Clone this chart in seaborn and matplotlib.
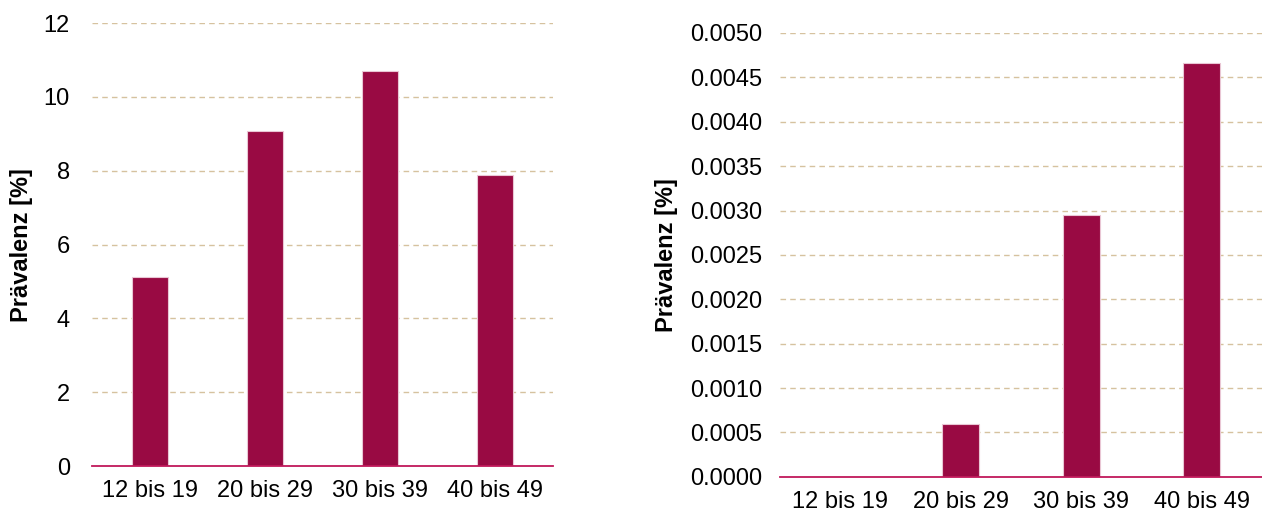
import matplotlib
matplotlib.use('Agg')
import matplotlib.pyplot as plt
import numpy as np
import pandas as pd
import seaborn as sns

altersgruppen = ['12 bis 19', '20 bis 29', '30 bis 39', '40 bis 49']
praevalenz_links = [5.12, 9.08, 10.70, 7.88]
praevalenz_rechts = [0.0, 0.0006, 0.00295, 0.00466]
yticks_links = [0, 2, 4, 6, 8, 10, 12]
yticks_rechts = [0.0, 0.0005, 0.0010, 0.0015, 0.0020, 0.0025, 0.0030, 0.0035, 0.0040, 0.0045, 0.0050]

links = pd.DataFrame({'Alter': altersgruppen, 'Prävalenz': praevalenz_links})
rechts = pd.DataFrame({'Alter': altersgruppen, 'Prävalenz': praevalenz_rechts})

sns.set_style('white')
plt.rcParams['font.family'] = ['Liberation Sans', 'DejaVu Sans']
plt.rcParams['text.color'] = 'black'
plt.rcParams['axes.labelcolor'] = 'black'
plt.rcParams['xtick.color'] = 'black'
plt.rcParams['ytick.color'] = 'black'

bar_color = '#990a43'
grid_color = '#d6c29f'
base_color = '#c0185a'

fig = plt.figure(figsize=(12.62, 5.15), dpi=100)
ax1 = fig.add_axes([0.073, 0.095, 0.365, 0.860])
ax2 = fig.add_axes([0.618, 0.074, 0.382, 0.862])

for ax, df, ticks, fmt, pad in [(ax1, links, yticks_links, '{:.0f}', 16),
                                (ax2, rechts, yticks_rechts, '{:.4f}', 13)]:
    sns.barplot(data=df, x='Alter', y='Prävalenz', ax=ax, color=bar_color,
                saturation=1, width=0.31, edgecolor='#e9c6d4', linewidth=0.8, zorder=3)
    ax.set_ylim(ticks[0], ticks[-1])
    ax.set_yticks(ticks)
    ax.set_yticklabels([fmt.format(t) for t in ticks])
    ax.set_xlim(-0.5, 3.5)
    for t in ticks[1:]:
        ax.axhline(t, color=grid_color, linestyle=(0, (4, 3)), linewidth=1.0, zorder=1)
    for s in ['top', 'right', 'left']:
        ax.spines[s].set_visible(False)
    ax.spines['bottom'].set_color(base_color)
    ax.spines['bottom'].set_linewidth(1.3)
    ax.spines['bottom'].set_zorder(4)
    ax.tick_params(axis='both', length=0, labelsize=17)
    ax.tick_params(axis='y', pad=pad)
    ax.tick_params(axis='x', pad=10)
    ax.set_xlabel('')
    ax.set_ylabel('Prävalenz [%]', fontsize=17, fontweight='bold')

ax1.yaxis.set_label_coords(-0.128, 0.5, transform=ax1.transAxes)
ax2.yaxis.set_label_coords(-0.212, 0.5, transform=ax2.transAxes)

plt.savefig('out.png', dpi=100)
